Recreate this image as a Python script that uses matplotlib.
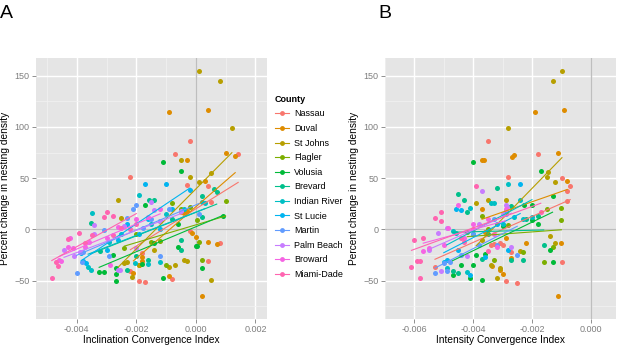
import matplotlib
matplotlib.use("Agg")
import matplotlib.pyplot as plt
from matplotlib.lines import Line2D
import numpy as np

counties = ["Nassau", "Duval", "St Johns", "Flagler", "Volusia", "Brevard",
            "Indian River", "St Lucie", "Martin", "Palm Beach", "Broward", "Miami-Dade"]
colors = ["#F8766D", "#DE8C00", "#B79F00", "#7CAE00", "#00BA38", "#00C08B",
          "#00BFC4", "#00B4F0", "#619CFF", "#C77CFF", "#F564E3", "#FF64B0"]

# panel A: inclination convergence index (x in units of 0.001), percent change
a_x = {
    "Nassau": [-2.2, -0.19, -0.71, 1.42, -0.3, 0.4, 0.5, -0.2, 0.8, 0.41, -1.7, -1.9, -0.8, -1.8, -0.5, -0.35, -2.2],
    "Duval": [-0.9, 0.41, 1.02, 1.32, -0.29, 0.3, -0.12, 0.0, 0.4, 0.7, 0.2, -0.9, -1.9, -1.8, -1.8, -2.1, -0.4, -0.3],
    "St Johns": [0.11, 0.81, 1.21, -0.49, 0.52, -0.19, 0.1, -2.6, -2.5, -2.4, -2.32, -2.15, -1.9, -1.4, -0.9, -0.7, -0.41, -0.3, 0.5],
    "Flagler": [1.0, 0.1, 0.2, -1.2, -0.8, -0.5, -0.2, 0.05, -1.5, -2.0, -2.4, -1.0],
    "Volusia": [-1.1, -0.49, 0.9, 0.03, 0.2, -1.1, -0.6, -2.7, -2.7, -2.7, -2.8, -1.8, -3.25, -3.1, -1.4, -1.7, -0.6, 0.0],
    "Brevard": [0.62, 0.2, 0.7, -0.5, -0.5, -1.58, -1.4, -3.53, -3.22, -2.0, -1.6, -2.3, -1.2, -0.8, 0.2],
    "Indian River": [0.2, 0.3, -1.9, -3.5, -3.62, -3.51, -2.03, -1.6, -1.2, -2.92, -1.0, -0.4, -2.5, -1.5],
    "St Lucie": [-1.7, -1.0, -3.78, -3.7, -3.0, -2.3, -1.6, -1.2, -0.8, -0.2, -3.85, -2.6, -1.9],
    "Martin": [-2.0, -2.1, -4.01, -3.83, -3.1, -2.32, -1.76, -1.2, -2.92, -3.8, 0.1, -0.9, -1.5],
    "Palm Beach": [-1.5, -1.4, -4.43, -4.09, -3.43, -3.42, -2.54, -2.4, -2.0, -1.2, -3.9, -0.5, -2.6],
    "Broward": [-4.54, -4.3, -4.23, -4.13, -3.73, -2.9, -3.0, -2.6, -2.0, -1.6, -3.6, -4.6, -1.2],
    "Miami-Dade": [-4.84, -4.62, -4.31, -3.92, -3.73, -3.0, -3.1, -2.8, -2.77, -2.5, -2.2, -3.5, -2.0, -4.7],
}
a_y = {
    "Nassau": [51, 86.5, 73.5, 73.5, 43, 42, 27, -1.3, -13.5, -31.3, -51, -50, -48.4, -23, 17, 18, -41],
    "Duval": [114.8, 116.8, 75, 71.6, 68, 47.7, -3.9, -7.7, -12.6, -14.5, -65, -46, -34.5, -31, -27.4, -43, 16, 18],
    "St Johns": [154.8, 144.5, 98.7, 68, 55.5, 51.6, 46, 29, 10.6, -33, -32, -46.8, -34.5, -20, -37, -34.5, -30.3, -31, -49],
    "Flagler": [28, -12.6, -29.7, -11.3, 26, 20, 22, 9, -12, -5, -18, -35],
    "Volusia": [65.5, 57.4, 12.6, -15.8, -37.7, -47.4, -16.8, -44, -50, -38, -25, -34, -42, -42, -13.5, 23.5, 5, -16],
    "Brevard": [39.7, 33, 36, -10.6, -19.7, 28.7, 28.7, 6, -21, -26, -29.7, -40, 8, 10, 12],
    "Indian River": [26.8, 26, 33.9, 15.5, -37, -40, -33, -34, -31.5, -12, 15, 20, -5, 5],
    "St Lucie": [43.9, 43.9, -31, -33, -20, 5, 10, 0, 20, 38, -23, -10, -5],
    "Martin": [23.5, 19.7, -42.6, -32, -0.6, 10.6, 1, -26.5, -25.8, -22, 15, 20, 10],
    "Palm Beach": [26.8, 18.7, -20, -26, -5, 4, -40, 3, -18, 8, -22, 18, -40],
    "Broward": [-31, -17.7, -8, -18, -17, -35, -8, 2, 10, 12, -12, -30, 20],
    "Miami-Dade": [-47.4, -36, -9.4, -4, -13.5, 16.5, 11.6, 12.9, -6, 1, 0, -6, 5, -32],
}

# panel B: intensity convergence index (x in units of 0.001), percent change
b_x = {
    "Nassau": [-3.5, -1.8, -0.98, -0.7, -0.8, -0.8, -2.8, -3.4, -3.0, -2.7, -2.9, -2.5, -0.98, -5.3, -3.1, -3.3],
    "Duval": [-0.9, -1.9, -2.62, -2.68, -1.1, -3.7, -3.62, -0.8, -2.9, -2.7, -2.2, -1.0, -1.1, -3.1, -3.0, -3.35, -3.7, -3.6],
    "St Johns": [-0.98, -1.29, -2.8, -1.46, -1.5, -1.2, -3.9, -3.5, -2.9, -3.4, -3.2, -2.4, -1.4, -1.2, -3.1, -3.7],
    "Flagler": [-1.5, -1.0, -1.0, -3.7, -3.3, -2.3, -1.3, -1.6, -2.8, -4.2, -3.5],
    "Volusia": [-4.0, -1.7, -2.27, -2.0, -1.3, -1.8, -2.0, -1.4, -1.3, -4.7, -4.4, -4.1, -4.0, -3.9, -3.7, -3.6, -3.0],
    "Brevard": [-3.2, -4.5, -4.3, -4.2, -2.7, -4.7, -4.5, -3.7, -2.7, -2.3, -1.6, -2.2, -1.8, -3.5],
    "Indian River": [-2.8, -4.1, -3.4, -3.3, -4.7, -4.6, -4.9, -4.2, -2.4, -2.3, -3.0, -2.6, -2.0],
    "St Lucie": [-2.4, -4.6, -4.4, -5.0, -4.9, -4.1, -3.6, -4.0, -3.2, -2.8, -2.9, -4.5],
    "Martin": [-5.3, -4.9, -5.0, -4.8, -4.0, -3.3, -2.9, -3.2, -3.8, -2.5, -4.4],
    "Palm Beach": [-3.7, -2.9, -2.85, -4.9, -5.2, -5.1, -4.2, -2.7, -3.0, -5.5, -3.8],
    "Broward": [-4.85, -4.5, -3.2, -5.7, -5.5, -4.0, -3.5, -2.9, -5.0, -4.3, -3.3],
    "Miami-Dade": [-3.9, -5.1, -5.3, -5.1, -5.7, -6.0, -4.3, -4.4, -5.9, -5.8, -6.1, -5.8, -3.5, -1.7, -4.0],
}
b_y = {
    "Nassau": [86.5, 73.5, 50, 42, 37, 27.4, 51.6, -15, -15, -22, -50, -52, -32.3, -37, -13, -14],
    "Duval": [116.8, 114.8, 72.6, 71, 75, 68, 68, 47.7, -8, -28, -12.9, -12.9, -65, -40, -44, -36, 20, -3],
    "St Johns": [154.8, 144.5, 98.7, 55.8, 51.6, 45.8, 26, 28.7, 28.4, -34.5, -47.4, -21, -6.4, -12.9, -38, -10],
    "Flagler": [20, 21.3, 9, 13, -30, -22, -16.8, -32, 4, -3, 0],
    "Volusia": [65.5, 57.4, 23.5, 23.5, 33, 4.8, 9, -20, -32, -45, -34.5, -48, -34.5, -25, -49, -24, 3],
    "Brevard": [40, 35, 28.7, 17, 23, -41, -42.6, -29, -30, -29.7, -15, 10, 13, -5],
    "Indian River": [43.9, 21.3, 25.5, 25.5, -2, -4, -38, -42, 28.4, 10, 5, 12, 12],
    "St Lucie": [43.9, 19.4, 19, -32, -30, -45, -27, -5, 5, -20, 18, -20],
    "Martin": [-42.6, -41, -33, -32, -5, 10, 15, -15, -15, -25, -25],
    "Palm Beach": [37.4, 23.5, 22, 1, -4, -41, -26, -17.7, 15, -20, 5],
    "Broward": [1, 24, -16.8, -21, -18, 5, 10, 20, -15, -8, -5],
    "Miami-Dade": [42, 17, 11.3, 8, -8, -10.3, -12, -8, -31, -31, -37, -47.4, -21, 17, 0],
}

plt.rcParams["font.family"] = ["Liberation Sans", "DejaVu Sans"]

fig = plt.figure(figsize=(6.18, 3.45), dpi=100)
ax_a = fig.add_axes([0.0583, 0.075, 0.3738, 0.757])
ax_b = fig.add_axes([0.623, 0.075, 0.3738, 0.757])


def draw_panel(ax, xs, ys, xlim, xticks, xlabel):
    ax.set_facecolor("#E5E5E5")
    for c, col in zip(counties, colors):
        x = np.array(xs[c]) * 1e-3
        y = np.array(ys[c])
        ax.scatter(x, y, s=13, color=col, linewidths=0, zorder=3)
        k, b = np.polyfit(x, y, 1)
        xx = np.array([x.min(), x.max()])
        ax.plot(xx, k * xx + b, color=col, lw=0.8, zorder=4)
    ax.axhline(0, color="#BEBEBE", lw=1.0, zorder=2)
    ax.axvline(0, color="#BEBEBE", lw=1.0, zorder=2)
    ax.set_xlim(*xlim)
    ax.set_ylim(-87.7, 167.4)
    ax.set_xticks(xticks)
    ax.set_xticklabels(["%.3f" % t for t in xticks])
    ax.set_yticks([-50, 0, 50, 100, 150])
    ax.set_xticks([t + 0.001 for t in xticks[:-1]] + [xticks[0] - 0.001], minor=True)
    ax.set_yticks([-75, -25, 25, 75, 125], minor=True)
    ax.grid(True, which="major", color="white", lw=1.0, zorder=1)
    ax.grid(True, which="minor", color="#F2F2F2", lw=0.5, zorder=1)
    ax.set_axisbelow(True)
    for s in ax.spines.values():
        s.set_visible(False)
    ax.tick_params(which="major", length=3, color="#7F7F7F", labelcolor="#7F7F7F",
                   labelsize=6.5, pad=1.5, width=0.6)
    ax.tick_params(which="minor", length=0)
    ax.set_xlabel(xlabel, fontsize=7.3, labelpad=0.5)
    ax.set_ylabel("Percent change in nesting density", fontsize=7.3, labelpad=3)


draw_panel(ax_a, a_x, a_y, (-0.00537, 0.00239), [-0.004, -0.002, 0.0, 0.002],
           "Inclination Convergence Index")
draw_panel(ax_b, b_x, b_y, (-0.00687, 0.00086), [-0.006, -0.004, -0.002, 0.0],
           "Intensity Convergence Index")

handles = [Line2D([0], [0], color=col, lw=0.8, marker="o", markersize=3.5,
                  markeredgewidth=0) for col in colors]
leg = fig.legend(handles, counties, title="County", loc="upper left",
                 bbox_to_anchor=(0.445, 0.725), frameon=False, fontsize=6.5,
                 title_fontsize=6.5, handlelength=1.6, handletextpad=0.5,
                 labelspacing=0.62, borderaxespad=0, borderpad=0)
leg.get_title().set_fontweight("bold")
leg._legend_box.align = "left"

fig.text(0.0, 0.985, "A", fontsize=14, va="top", ha="left")
fig.text(0.612, 0.985, "B", fontsize=14, va="top", ha="left")

fig.savefig("out.png", dpi=100)
